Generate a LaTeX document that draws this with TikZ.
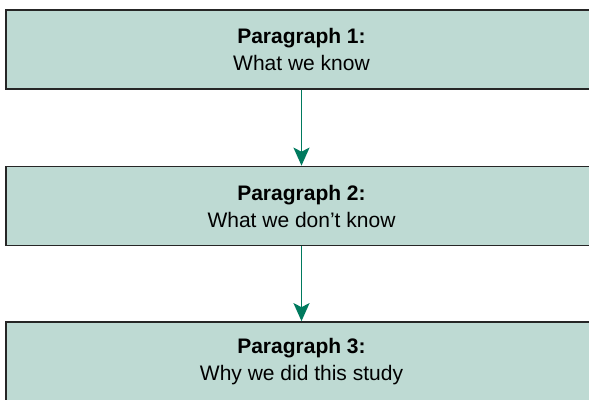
\documentclass[tikz,border=0pt]{standalone}
\usepackage{fontspec}
\setmainfont{Liberation Sans}
\usetikzlibrary{arrows.meta,positioning}
\definecolor{boxfill}{HTML}{BEDAD3}
\definecolor{arrowgreen}{HTML}{007A5E}
\tikzset
{
    parbox/.style = {rectangle, draw=black!85, fill=boxfill, line width=1.7pt, align=center,
                     minimum width=591pt, minimum height=79pt, inner sep=0pt,
                     font=\fontsize{21}{27}\selectfont},
    flow/.style   = {draw=arrowgreen, line width=1.6pt,
                     -{Stealth[length=18pt,width=16pt,inset=4pt,color=arrowgreen]}}
}
\begin{document}
\begin{tikzpicture}[x=1pt,y=-1pt]
\useasboundingbox (0,0) rectangle (589,399);
\clip (0,0) rectangle (589,399);
\node [parbox] at (301.5,49.5) (p1) {\textbf{Paragraph 1:}\\What we know};
\node [parbox] at (301.5,206) (p2) {\textbf{Paragraph 2:}\\What we don’t know};
\node [parbox] at (301.5,361.5) (p3) {\textbf{Paragraph 3:}\\Why we did this study};
\draw [flow] (p1.south) -- (p2.north);
\draw [flow] (p2.south) -- (p3.north);
\end{tikzpicture}
\end{document}
